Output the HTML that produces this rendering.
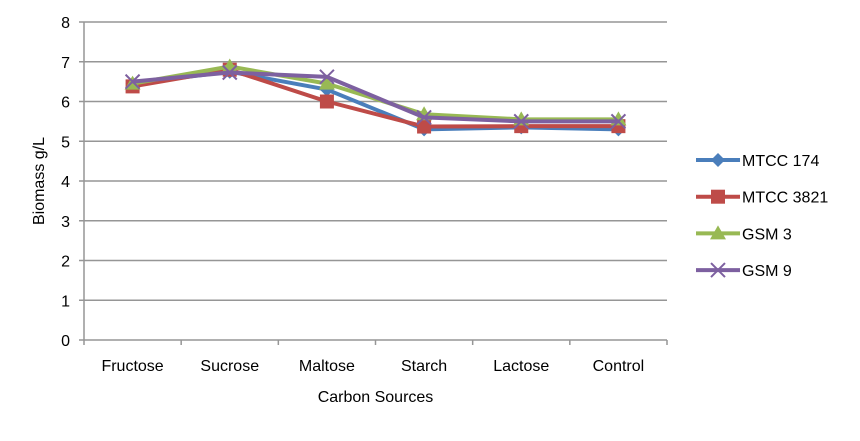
<!DOCTYPE html>
<html><head><meta charset="utf-8"><style>
body{margin:0;background:#fff;}
text{font-family:"Liberation Sans",sans-serif;}
</style></head><body>
<svg id="chart" width="860" height="436" xmlns="http://www.w3.org/2000/svg"></svg>
<script>
const categories=["Fructose","Sucrose","Maltose","Starch","Lactose","Control"];
const seriesNames=["MTCC 174","MTCC 3821","GSM 3","GSM 9"];
const mtcc174=[6.45,6.75,6.3,5.3,5.35,5.3];
const mtcc3821=[6.38,6.8,6.0,5.37,5.38,5.38];
const gsm3=[6.45,6.88,6.45,5.68,5.55,5.55];
const gsm9=[6.5,6.73,6.62,5.6,5.5,5.5];
const yTicks=[0,1,2,3,4,5,6,7,8];
const NS="http://www.w3.org/2000/svg";
const svg=document.getElementById('chart');
const X0=84,X1=667,Y0=340,Y1=22;
const bw=(X1-X0)/categories.length;
const xs=i=>X0+bw*(i+0.5);
const ys=v=>Y0-(v/8)*(Y0-Y1);
function mk(t,a){const e=document.createElementNS(NS,t);for(const k in a)e.setAttribute(k,a[k]);svg.appendChild(e);return e;}
yTicks.forEach(t=>{
 const g=mk('line',{x1:X0-5,x2:X1,y1:ys(t),y2:ys(t),stroke:'#969696','stroke-width':1.5});
 
 
 const l=mk('text',{x:X0-14,y:ys(t)+6,'text-anchor':'end','font-size':16,fill:'#000'});l.textContent=t;
 
 
});
const ax=mk('line',{x1:X0,x2:X0,y1:Y1,y2:Y0,stroke:'#969696','stroke-width':1.5});


for(let i=0;i<=categories.length;i++){const tk=mk('line',{x1:X0+bw*i,x2:X0+bw*i,y1:Y0,y2:Y0+5,stroke:'#969696','stroke-width':1.5});
 
 }
categories.forEach((c,i)=>{const t=mk('text',{x:xs(i),y:371,'text-anchor':'middle','font-size':16});t.textContent=c;
 
 });
const xt=mk('text',{x:X0+(X1-X0)/2,y:402,'text-anchor':'middle','font-size':16});xt.textContent='Carbon Sources';


const yt=mk('text',{x:0,y:0,'text-anchor':'middle','font-size':16,transform:'translate(44,181) rotate(-90)'});yt.textContent='Biomass g/L';


const colors=['#4a7ebb','#be4b48','#98b954','#7d60a0'];
const data=[mtcc174,mtcc3821,gsm3,gsm9];
function marker(k,x,y,c){
 let e;
 if(k===0)e=mk('polygon',{points:`${x},${y-7} ${x+7},${y} ${x},${y+7} ${x-7},${y}`,fill:c});
 else if(k===1)e=mk('rect',{x:x-7,y:y-7,width:14,height:14,fill:c});
 else if(k===2)e=mk('polygon',{points:`${x},${y-8} ${x+8},${y+6} ${x-8},${y+6}`,fill:c});
 else e=mk('path',{d:`M${x-7},${y-7}L${x+7},${y+7}M${x-7},${y+7}L${x+7},${y-7}`,stroke:c,'stroke-width':2,fill:'none'});
 return e;
}
data.forEach((d,k)=>{
 const p=mk('polyline',{points:d.map((v,i)=>xs(i)+','+ys(v)).join(' '),fill:'none',stroke:colors[k],'stroke-width':4,'stroke-linejoin':'round'});
 
 
 d.forEach((v,i)=>{const m=marker(k,xs(i),ys(v),colors[k]);
  
  });
 const ly=160+k*36.7;
 const ll=mk('line',{x1:696,x2:740,y1:ly,y2:ly,stroke:colors[k],'stroke-width':4});
 
 
 const lm=marker(k,718,ly,colors[k]);
 
 
 const lt=mk('text',{x:742,y:ly+6,'font-size':16});lt.textContent=seriesNames[k];
 
 
});
</script>
</body></html>
